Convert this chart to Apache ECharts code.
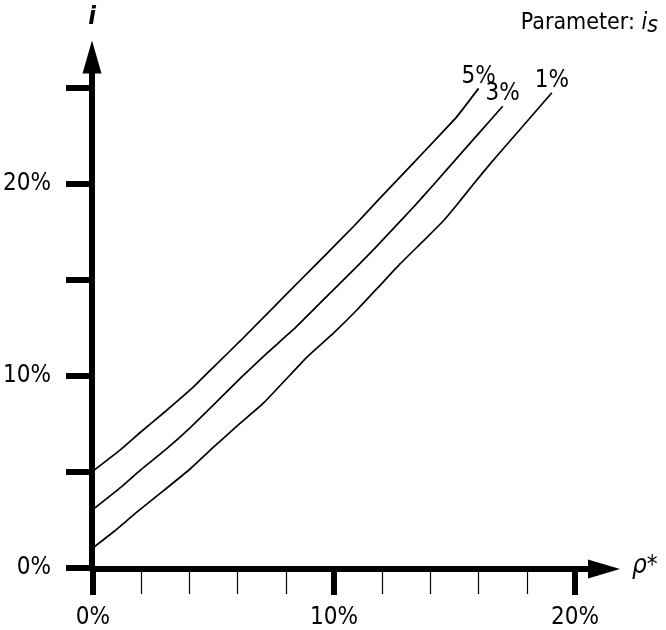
<!DOCTYPE html>
<html>
<head>
<meta charset="utf-8">
<script src="https://cdn.jsdelivr.net/npm/echarts@6/dist/echarts.min.js"></script>
<style>
html,body{margin:0;padding:0;background:#fff;}
#chart{width:666px;height:630px;}
</style>
</head>
<body>
<div id="chart"></div>
<script>
// Parameter values i_s (curve labels)
var curveNames = ['5%', '3%', '1%'];

// Curve points [rho*, i] in percent
var curve5 = [[0,5.05],[1.08,6.1],[1.97,7.07],[3.0,8.15],[4.1,9.35],[5.15,10.65],[6.13,11.85],[7.51,13.6],[8.61,15.0],[9.72,16.4],[10.82,17.8],[11.86,19.2],[13.3,21.1],[14.27,22.39],[15.1,23.51],[16.0,24.98]];
var curve3 = [[0,3.05],[1.15,4.2],[1.97,5.1],[3.0,6.15],[4.05,7.33],[5.0,8.5],[6.13,9.9],[7.23,11.2],[8.34,12.45],[9.44,13.82],[10.55,15.2],[11.65,16.59],[12.48,17.7],[13.3,18.8],[14.13,19.96],[15.1,21.35],[16.07,22.73],[17.0,24.05]];
var curve1 = [[0,1.05],[0.87,1.9],[1.83,2.92],[2.94,4.04],[4.04,5.17],[5.0,6.29],[5.98,7.4],[7.08,8.6],[8.89,11.0],[9.99,12.25],[10.96,13.45],[11.93,14.75],[12.75,15.85],[13.72,17.05],[14.55,18.1],[15.1,18.92],[15.79,20.0],[16.48,21.05],[17.31,22.25],[18.14,23.45],[19.04,24.75]];
var curves = [curve5, curve3, curve1];

// Axis ranges / tick labels
var xMin = 0, xMax = 20, xInterval = 10;
var yMin = 0, yMax = 25, yInterval = 5;
var yLabelValues = [0, 10, 20];

var FONT = '"DejaVu Sans Condensed", "Liberation Sans Narrow", "Liberation Sans", sans-serif';

var chart = echarts.init(document.getElementById('chart'), null, {renderer: 'canvas'});

var series = curves.map(function (pts, k) {
  var data = pts.map(function (p, idx) {
    if (idx === pts.length - 1) {
      return {
        value: p,
        label: {
          show: true,
          formatter: curveNames[k],
          position: 'top',
          distance: 0,
          fontFamily: FONT,
          fontSize: 24,
          color: '#000'
        }
      };
    }
    return p;
  });
  return {
    type: 'line',
    name: curveNames[k],
    xAxisIndex: 0,
    yAxisIndex: 0,
    data: data,
    smooth: 0.15,
    showSymbol: true,
    symbol: 'circle',
    symbolSize: 0,
    silent: true,
    lineStyle: {color: '#000', width: 1.7},
    itemStyle: {color: '#000'},
    label: {show: false},
    emphasis: {disabled: true}
  };
});

var option = {
  animation: false,
  backgroundColor: '#fff',
  title: {
    text: '{p|Parameter: }{i|i}{s|s}',
    right: 3,
    top: 3,
    textStyle: {
      fontWeight: 'normal',
      rich: {
        p: {fontFamily: FONT, fontSize: 23, fontWeight: 'normal', color: '#000', lineHeight: 30},
        i: {fontFamily: FONT, fontSize: 23, fontWeight: 'normal', fontStyle: 'italic', color: '#000', lineHeight: 30},
        s: {fontFamily: FONT, fontSize: 23, fontWeight: 'normal', fontStyle: 'italic', color: '#000', lineHeight: 24, verticalAlign: 'bottom'}
      }
    }
  },
  grid: [
    {left: 92, right: 91, top: 88, bottom: 61},
    {left: 92, right: 62, top: 57, bottom: 61}
  ],
  xAxis: [
    {
      gridIndex: 0,
      type: 'value',
      min: xMin, max: xMax, interval: xInterval,
      axisLine: {show: false},
      axisTick: {show: true, length: 27, lineStyle: {color: '#000', width: 6}},
      minorTick: {show: true, splitNumber: 5, length: 26, lineStyle: {color: '#000', width: 1.2}},
      splitLine: {show: false},
      minorSplitLine: {show: false},
      axisLabel: {
        formatter: '{value}%', fontFamily: FONT, fontSize: 24, color: '#000', margin: 38
      }
    },
    {
      gridIndex: 1,
      type: 'value',
      min: 0, max: 1,
      axisLine: {show: true, onZero: false, symbol: ['none', 'triangle'], symbolSize: [19, 32], lineStyle: {color: '#000', width: 6}},
      axisTick: {show: false},
      axisLabel: {show: false},
      splitLine: {show: false},
      name: '{r|ρ}{a|*}',
      nameLocation: 'end',
      nameGap: 28,
      nameTextStyle: {
        align: 'left', verticalAlign: 'middle', padding: [0, 0, 6, 0],
        rich: {
          r: {fontFamily: FONT, fontSize: 26, fontStyle: 'italic', color: '#000'},
          a: {fontFamily: FONT, fontSize: 24, color: '#000'}
        }
      }
    }
  ],
  yAxis: [
    {
      gridIndex: 0,
      type: 'value',
      min: yMin, max: yMax, interval: yInterval,
      axisLine: {show: false},
      axisTick: {show: true, length: 27, lineStyle: {color: '#000', width: 6}},
      splitLine: {show: false},
      axisLabel: {
        formatter: function (v) { return yLabelValues.indexOf(v) >= 0 ? v + '%' : ''; },
        fontFamily: FONT, fontSize: 24, color: '#000', margin: 42
      }
    },
    {
      gridIndex: 1,
      type: 'value',
      min: 0, max: 1,
      axisLine: {show: true, onZero: false, symbol: ['none', 'triangle'], symbolSize: [19, 33], lineStyle: {color: '#000', width: 6}},
      axisTick: {show: false},
      axisLabel: {show: false},
      splitLine: {show: false},
      name: 'i',
      nameLocation: 'end',
      nameGap: 40,
      nameTextStyle: {
        fontFamily: FONT, fontSize: 25, fontStyle: 'italic', fontWeight: 'bold', color: '#000',
        align: 'center', verticalAlign: 'middle'
      }
    }
  ],
  series: series
};

chart.setOption(option);
</script>
</body>
</html>
